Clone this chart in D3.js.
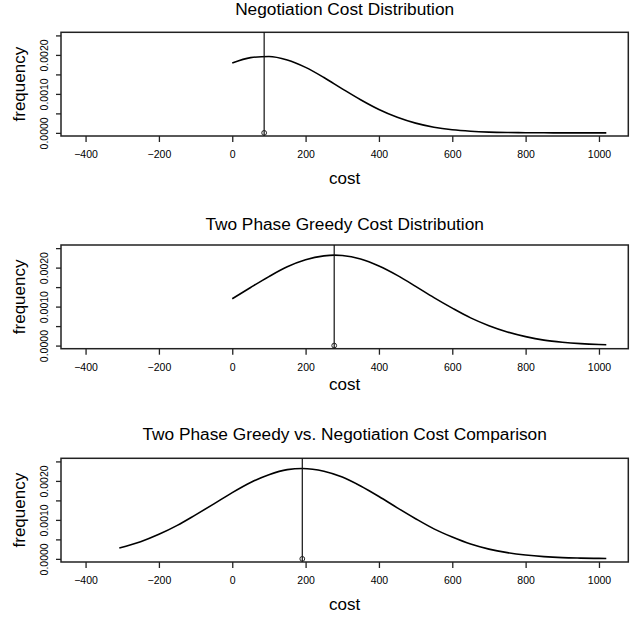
<!DOCTYPE html>
<html>
<head>
<meta charset="utf-8">
<script src="https://cdn.jsdelivr.net/npm/d3@7"></script>
<style>
  body { margin: 0; background: #fff; }
  svg { display: block; }
  text { font-family: "Liberation Sans", Arial, Helvetica, sans-serif; fill: #000; }
</style>
</head>
<body>
<svg width="631" height="619"></svg>
<script>
// values
const titles = [
  "Negotiation Cost Distribution",
  "Two Phase Greedy Cost Distribution",
  "Two Phase Greedy vs. Negotiation Cost Comparison"
];

const negotiationCost = [0, 50, 100, 150, 200, 250, 300, 350, 400, 450, 500, 550, 600, 650, 700, 750, 800, 850, 900, 950, 1000, 1020];
const negotiationFreq = [0.00179, 0.00193, 0.00196, 0.00187, 0.00168, 0.00142, 0.00113, 0.00085, 0.00060, 0.00040, 0.00025, 0.000145,
  0.00008, 0.000042, 0.00002, 0.000009, 0.000004, 0.000002, 0.000001, 0.000001, 0, 0];

const greedyCost = [0, 50, 100, 150, 200, 250, 278, 300, 350, 400, 450, 500, 550, 600, 650, 700, 750, 800, 850, 900, 950, 1000, 1020];
const greedyFreq = [0.00120, 0.00149, 0.00177, 0.00202, 0.00220, 0.00230, 0.00232, 0.00231, 0.00222, 0.00204, 0.00180, 0.00152, 0.00123,
  0.00096, 0.00071, 0.00051, 0.00035, 0.00023, 0.00014, 0.000085, 0.000049, 0.000027, 0.000021];

const comparisonCost = [-308, -250, -200, -150, -100, -50, 0, 50, 100, 150, 191, 250, 300, 350, 400, 450, 500, 550, 600, 650, 700, 750,
  800, 850, 900, 950, 1000, 1020];
const comparisonFreq = [0.00028, 0.00044, 0.00063, 0.00086, 0.00113, 0.00141, 0.00170, 0.00196, 0.00216, 0.00229, 0.00232, 0.00225,
  0.00210, 0.00187, 0.00160, 0.00131, 0.00103, 0.00077, 0.00056, 0.00038, 0.00025, 0.00016, 0.000098, 0.000057, 0.000032, 0.00002,
  0.000012, 0.00001];

const meanCost = [87, 278, 191];

const xTicks = [-400, -200, 0, 200, 400, 600, 800, 1000];
const yTicks = [0, 0.0005, 0.001, 0.0015, 0.002, 0.0025];
const yTickLabels = ["0.0000", "", "0.0010", "", "0.0020", ""];

// layout
const left = 61, right = 628.3, boxH = 103.7;
const panelTop = [32.3, 245, 458.3];
const titleBase = [15, 230, 440];
const xlabBase = [184, 390, 610];

const series = [
  { cost: negotiationCost, freq: negotiationFreq },
  { cost: greedyCost, freq: greedyFreq },
  { cost: comparisonCost, freq: comparisonFreq }
];

const svg = d3.select("svg");

const x = d3.scaleLinear().domain([-467, 1080]).range([left, right]);
const y = d3.scaleLinear().domain([-0.00008, 0.00258]).range([boxH, 0]);

series.forEach((s, i) => {
  const g = svg.append("g").attr("transform", `translate(0,${panelTop[i]})`);

  // x axis
  const xa = g.append("g")
    .attr("transform", `translate(0,${boxH})`)
    .call(d3.axisBottom(x).tickValues(xTicks).tickSize(6).tickSizeOuter(0).tickFormat(d => d < 0 ? "\u2212" + (-d) : d));
  xa.select(".domain").remove();
  xa.selectAll(".tick line").attr("stroke", "#222").attr("stroke-width", 1.3);
  xa.selectAll(".tick text").attr("y", 22).attr("dy", 0).style("font-size", "10.5px");

  // y axis
  const ya = g.append("g")
    .attr("transform", `translate(${left},0)`)
    .call(d3.axisLeft(y).tickValues(yTicks).tickSize(5).tickSizeOuter(0).tickFormat((d, k) => yTickLabels[k]));
  ya.select(".domain").remove();
  ya.selectAll(".tick line").attr("stroke", "#222").attr("stroke-width", 1.3);
  ya.selectAll(".tick text")
    .attr("transform", "rotate(-90)")
    .attr("x", 0).attr("y", -13.5).attr("dy", 0)
    .attr("text-anchor", "middle")
    .style("font-size", "10.5px");

  // frame
  g.append("rect")
    .attr("x", left).attr("y", 0)
    .attr("width", right - left).attr("height", boxH)
    .attr("fill", "none").attr("stroke", "#222").attr("stroke-width", 1.5);

  // density curve
  const line = d3.line()
    .x((d, k) => x(s.cost[k]))
    .y(d => y(d))
    .curve(d3.curveMonotoneX);
  g.append("path")
    .datum(s.freq)
    .attr("d", line)
    .attr("fill", "none").attr("stroke", "#000").attr("stroke-width", 1.6);

  // mean marker
  g.append("line")
    .attr("x1", x(meanCost[i])).attr("x2", x(meanCost[i]))
    .attr("y1", 0).attr("y2", boxH)
    .attr("stroke", "#111").attr("stroke-width", 1.2);
  g.append("circle")
    .attr("cx", x(meanCost[i])).attr("cy", y(0)).attr("r", 2.4)
    .attr("fill", "none").attr("stroke", "#222").attr("stroke-width", 1);

  // titles and labels
  svg.append("text")
    .attr("x", (left + right) / 2).attr("y", titleBase[i])
    .attr("text-anchor", "middle").style("font-size", "17.3px")
    .text(titles[i]);
  svg.append("text")
    .attr("x", (left + right) / 2).attr("y", xlabBase[i])
    .attr("text-anchor", "middle").style("font-size", "17px")
    .text("cost");
  svg.append("text")
    .attr("transform", `translate(24.5,${panelTop[i] + boxH / 2}) rotate(-90)`)
    .attr("text-anchor", "middle").style("font-size", "17px")
    .text("frequency");
});
</script>
</body>
</html>
